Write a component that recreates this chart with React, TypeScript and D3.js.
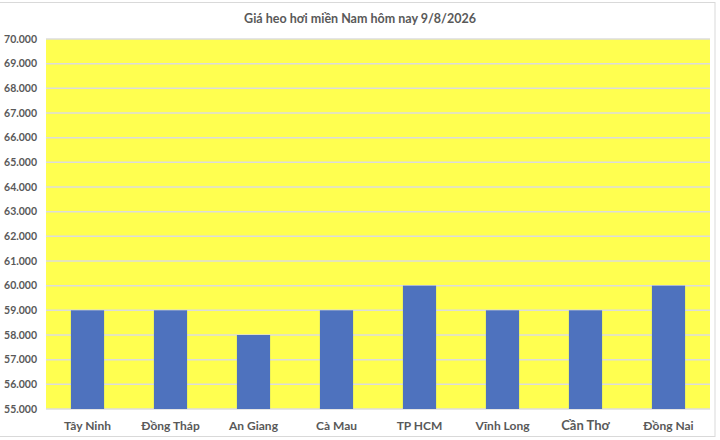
import { useRef, useEffect } from 'react'
import * as d3 from 'd3'

const provinces = ['Tây Ninh', 'Đồng Tháp', 'An Giang', 'Cà Mau', 'TP HCM', 'Vĩnh Long', 'Cần Thơ', 'Đồng Nai']
const prices = [59000, 59000, 58000, 59000, 60000, 59000, 59000, 60000]
const yTicks = [55000, 56000, 57000, 58000, 59000, 60000, 61000, 62000, 63000, 64000, 65000, 66000, 67000, 68000, 69000, 70000]
const title = 'Giá heo hơi miền Nam hôm nay 9/8/2026'

const WIDTH = 720
const HEIGHT = 440
const FONT = 'Lato, "Open Sans", sans-serif'
const TEXT_COLOR = '#595959'

export default function App() {
  const svgRef = useRef<SVGSVGElement>(null)

  useEffect(() => {
    if (!svgRef.current) return
    const svg = d3.select(svgRef.current)
    svg.selectAll('*').remove()

    const margin = { top: 39, right: 10, bottom: 31, left: 46 }
    const innerWidth = WIDTH - margin.left - margin.right
    const innerHeight = HEIGHT - margin.top - margin.bottom

    // sheet background + chart frame
    svg.append('rect').attr('width', WIDTH).attr('height', HEIGHT).attr('fill', '#ffffff')
    svg
      .append('rect')
      .attr('x', -1)
      .attr('y', 2.5)
      .attr('width', 716)
      .attr('height', 434)
      .attr('fill', '#ffffff')
      .attr('stroke', '#d9d9d9')

    svg
      .append('text')
      .attr('x', WIDTH / 2)
      .attr('y', 23)
      .attr('text-anchor', 'middle')
      .attr('font-family', FONT)
      .attr('font-size', 12.5)
      .attr('font-weight', 'bold')
      .attr('fill', TEXT_COLOR)
      .text(title)

    const g = svg.append('g').attr('transform', `translate(${margin.left},${margin.top})`)

    const x = d3.scaleBand<string>().domain(provinces).range([0, innerWidth]).paddingInner(0.6).paddingOuter(0.3)
    const y = d3.scaleLinear().domain([55000, 70000]).range([innerHeight, 0])

    g.append('rect').attr('width', innerWidth).attr('height', innerHeight).attr('fill', '#ffff50')

    g.selectAll('line.grid')
      .data(yTicks)
      .enter()
      .append('line')
      .attr('class', 'grid')
      .attr('x1', 0)
      .attr('x2', innerWidth)
      .attr('y1', (d) => y(d))
      .attr('y2', (d) => y(d))
      .attr('stroke', '#dcdcdc')
      .attr('stroke-width', 1.5)

    g.selectAll('rect.bar')
      .data(prices)
      .enter()
      .append('rect')
      .attr('class', 'bar')
      .attr('x', (_, i) => x(provinces[i]) ?? 0)
      .attr('y', (d) => y(d))
      .attr('width', x.bandwidth())
      .attr('height', (d) => innerHeight - y(d))
      .attr('fill', '#4e72be')

    const fmt = (v: number) => d3.format(',')(v).replace(/,/g, '.')

    g.selectAll('text.ytick')
      .data(yTicks)
      .enter()
      .append('text')
      .attr('class', 'ytick')
      .attr('x', -9)
      .attr('y', (d) => y(d))
      .attr('dy', '0.35em')
      .attr('text-anchor', 'end')
      .attr('font-family', FONT)
      .attr('font-size', 10.5)
      .attr('font-weight', 'bold')
      .attr('fill', TEXT_COLOR)
      .text(fmt)

    g.selectAll('text.xtick')
      .data(provinces)
      .enter()
      .append('text')
      .attr('class', 'xtick')
      .attr('x', (d) => (x(d) ?? 0) + x.bandwidth() / 2)
      .attr('y', innerHeight + 21)
      .attr('text-anchor', 'middle')
      .attr('font-family', FONT)
      .attr('font-size', (d) => (d === 'Cần Thơ' ? 13 : 12))
      .attr('font-weight', 'bold')
      .attr('fill', TEXT_COLOR)
      .text((d) => d)
  }, [])

  return (
    <svg
      ref={svgRef}
      width={WIDTH}
      height={HEIGHT}
      style={{ position: 'absolute', left: 0, top: 0, display: 'block' }}
    />
  )
}
